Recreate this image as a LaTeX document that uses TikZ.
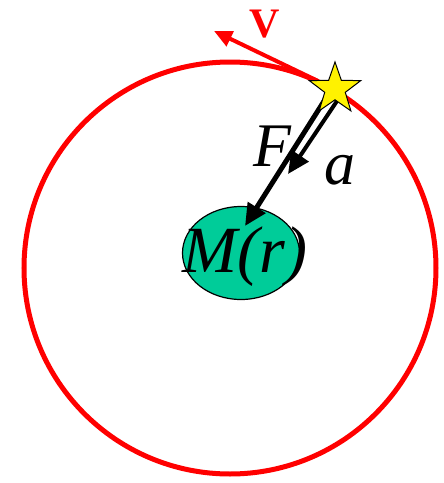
\documentclass[tikz,border=0pt]{standalone}
\usepackage{fontspec}
\setmainfont{Liberation Serif}
\usetikzlibrary{shapes.geometric,arrows.meta}
\definecolor{orbitred}{RGB}{255,0,0}
\definecolor{massgreen}{RGB}{0,204,153}
\tikzset{
  orbitline/.style={draw=orbitred,line width=5pt},
  vecred/.style={draw=orbitred,line width=4pt,-{Triangle[length=18pt,width=16pt]}},
  vecblack/.style={draw=black,line width=5pt,-{Triangle[length=22pt,width=20pt]}},
  bigital/.style={font=\fontsize{62}{62}\selectfont\itshape,inner sep=0pt},
}
\begin{document}
\begin{tikzpicture}[x=1pt,y=-1pt]
\useasboundingbox (0,0) rectangle (444,483);
\node[circle,orbitline,minimum size=412pt,inner sep=0pt] (orbit) at (230,268) {};
\node[ellipse,draw=black,line width=1.2pt,fill=massgreen,minimum width=117pt,minimum height=93pt,inner sep=0pt] (mass) at (241,253) {};
\node[bigital,font=\fontsize{66}{66}\selectfont\itshape] (mtext) at (245,257) {M(r)};
\coordinate (vstart) at (318,81);
\coordinate (vtip) at (214,31);
\draw[vecred] (vstart) -- (vtip);
\node[font=\fontsize{42}{42}\selectfont\bfseries,text=orbitred,inner sep=0pt] (vlabel) at (265,24) {V};
\coordinate (fstart) at (326,98);
\coordinate (ftip) at (245,226);
\draw[vecblack] (fstart) -- (ftip);
\coordinate (astart) at (337,101);
\coordinate (atip) at (288,174);
\draw[vecblack,line width=4pt] (astart) -- (atip);
\node[star,star points=5,star point ratio=2.5,draw=black,line width=1pt,fill=yellow,minimum size=54pt,inner sep=0pt] (star) at (335,89) {};
\node[bigital] (flabel) at (272,146) {F};
\node[bigital] (alabel) at (340,170) {a};
\end{tikzpicture}
\end{document}
